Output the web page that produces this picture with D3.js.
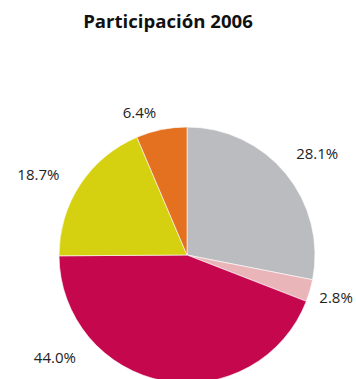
<!DOCTYPE html>
<html>
<head>
<meta charset="utf-8">
<script src="https://cdn.jsdelivr.net/npm/d3@7/dist/d3.min.js"></script>
<style>
  html, body { margin: 0; padding: 0; background: #ffffff; }
  svg { display: block; }
</style>
</head>
<body>
<script>
// Shares for 2006, clockwise from twelve o'clock
const categories = ["A", "B", "C", "D", "E"];
const shares = [28.1, 2.8, 44.0, 18.7, 6.4];
const labels = ["28.1%", "2.8%", "44.0%", "18.7%", "6.4%"];
const colors = ["#bbbcc0", "#e9b5b9", "#c5084e", "#d5d111", "#e3711f"];
const title = "Participación 2006";

// Label placement: angle (deg, clockwise from top) and distance from centre
const labelPlacement = [
  { angle: 52.1, radius: 165 },
  { angle: 105.9, radius: 155 },
  { angle: 232.3, radius: 167 },
  { angle: 298.4, radius: 169 },
  { angle: 341.5, radius: 150 }
];

const width = 356, height = 379;
const cx = 187, cy = 255, R = 128;

const svg = d3.select("body").append("svg")
  .attr("width", width)
  .attr("height", height);

svg.append("text")
  .attr("x", 168)
  .attr("y", 27.5)
  .attr("text-anchor", "middle")
  .attr("font-family", "'Open Sans', sans-serif")
  .attr("font-weight", 700)
  .attr("font-size", 18.6)
  .attr("fill", "#111")
  .text(title);

const data = categories.map((c, i) => ({ category: c, value: shares[i], label: labels[i], color: colors[i] }));

const pie = d3.pie().sort(null).value(d => d.value).startAngle(0).endAngle(2 * Math.PI);
const arc = d3.arc().innerRadius(0).outerRadius(R);

const g = svg.append("g").attr("transform", `translate(${cx},${cy})`);

g.selectAll("path.slice")
  .data(pie(data))
  .join("path")
  .attr("class", "slice")
  .attr("d", arc)
  .attr("fill", d => d.data.color)
  .attr("stroke", "#ffffff")
  .attr("stroke-width", 0.6);

g.selectAll("text.lbl")
  .data(pie(data))
  .join("text")
  .attr("class", "lbl")
  .attr("x", (d, i) => labelPlacement[i].radius * Math.sin(labelPlacement[i].angle * Math.PI / 180))
  .attr("y", (d, i) => -labelPlacement[i].radius * Math.cos(labelPlacement[i].angle * Math.PI / 180))
  .attr("dy", "0.36em")
  .attr("text-anchor", "middle")
  .attr("font-family", "'Open Sans', sans-serif")
  .attr("font-size", 15)
  .attr("fill", "#222")
  .text(d => d.data.label);
</script>
</body>
</html>
